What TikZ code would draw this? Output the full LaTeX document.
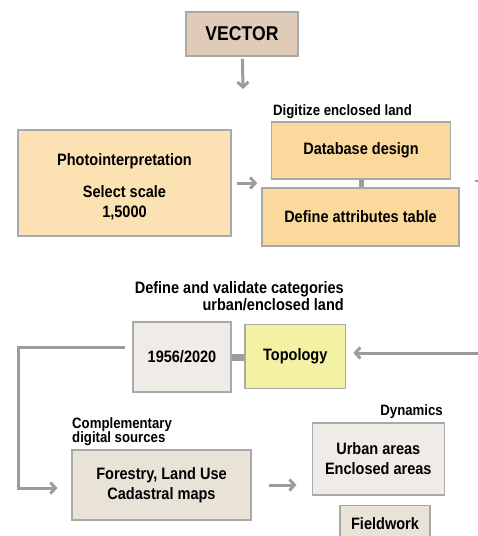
\documentclass[tikz,border=0pt]{standalone}
\usepackage{fontspec}
\setmainfont[FakeStretch=0.88]{Liberation Sans}
\usetikzlibrary{positioning, calc, arrows.meta}

\definecolor{tanbox}{HTML}{DFCBB7}
\definecolor{orangebox}{HTML}{FBD89C}
\definecolor{paleorange}{HTML}{FCE1B3}
\definecolor{greybox}{HTML}{EFEBE6}
\definecolor{sandbox}{HTML}{E9E2D7}
\definecolor{yellowbox}{HTML}{F3F2A4}
\definecolor{frame}{HTML}{A9A9A9}
\definecolor{flow}{HTML}{9C9C9C}

\newcommand\bxfont{\bfseries\fontsize{16.5}{20}\selectfont}
\newcommand\lbfont{\bfseries\fontsize{15}{18}\selectfont}

\begin{document}
\begin{tikzpicture}[x=1pt, y=-1pt,
    box/.style={draw=frame, line width=1.6pt, inner sep=0pt, align=center, font=\bxfont},
    lbl/.style={inner sep=0pt, font=\lbfont},
    arr/.style={draw=flow, line width=3pt, -{Straight Barb[length=5pt, width=11pt]}},
    link/.style={draw=flow, line width=7pt}]

    % Page
    \clip (0,0) rectangle (478,536);

    % Top part
    \node[box, fill=tanbox, minimum width=112pt, minimum height=44pt,
          font=\bfseries\fontsize{20}{24}\selectfont] (vec) at (242,34) {VECTOR};
    \coordinate (vecend) at (243,89);

    \node[box, fill=paleorange, minimum width=213pt, minimum height=106pt] (photo) at (124.5,183)
        {\rule{0pt}{20pt}Photointerpretation\\[12pt]Select scale\\1,5000};

    \node[lbl, anchor=base west] (dig) at (273,115) {Digitize enclosed land};
    \node[box, fill=orangebox, minimum width=179pt, minimum height=57pt] (db) at (361,150.5) {Database design};
    \node[box, fill=orangebox, minimum width=197pt, minimum height=57.5pt] (attr) at (360.5,217) {Define attributes table};
    \coordinate (cut) at (475,181);

    % Middle part
    \node[lbl, align=right, anchor=north east, font=\bfseries\fontsize{16.5}{15}\selectfont] (cat) at (344,281.5)
        {Define and validate categories\\urban/enclosed land};
    \node[box, fill=greybox, minimum width=98pt, minimum height=70.5pt] (yr) at (182,357) {1956/2020};
    \node[box, fill=yellowbox, minimum width=100.5pt, minimum height=64pt] (topo) at (295.3,356.3) {Topology};
    \coordinate (rin) at (478,353);
    \coordinate (bend) at (18,347);

    % Bottom part
    \node[lbl, align=left, anchor=north west, font=\bfseries\fontsize{15}{14}\selectfont] (comp) at (72,417)
        {Complementary\\digital sources};
    \node[box, fill=sandbox, minimum width=178.5pt, minimum height=70pt] (forest) at (161.5,485)
        {Forestry, Land Use\\Cadastral maps};
    \node[lbl, anchor=base east] (dyn) at (443,415) {Dynamics};
    \node[box, fill=greybox, minimum width=132pt, minimum height=72.5pt] (urban) at (378.3,459)
        {Urban areas\\Enclosed areas};
    \node[box, fill=sandbox, minimum width=90pt, minimum height=50pt, anchor=north] (field) at (385,504.5) {};
    \node[inner sep=0pt, font=\bxfont, anchor=base] (fieldtxt) at (385,529) {Fieldwork};

    % Connectors
    \draw[arr, shorten <=2pt] (vec) -- (vecend);
    \draw[arr, shorten <=5pt, shorten >=4pt] (photo.east) -- (photo.east -| attr.west);
    \draw[link, line width=5pt] (db.south) -- (db.south |- attr.north);
    \draw[draw=flow, line width=2pt] (cut) -- ++(3,0);
    \draw[link] (yr.east) -- (yr.east -| topo.west);
    \draw[arr, shorten >=7pt] (rin) -- (topo.east |- rin);
    \draw[arr, shorten >=14pt] ($(yr.west)+(-7,-10)$) -- (bend) |- ($(forest.west)+(0,3)$);
    \draw[arr, shorten <=17pt, shorten >=15pt] (forest.east) -- (forest.east -| urban.west);

\end{tikzpicture}
\end{document}
